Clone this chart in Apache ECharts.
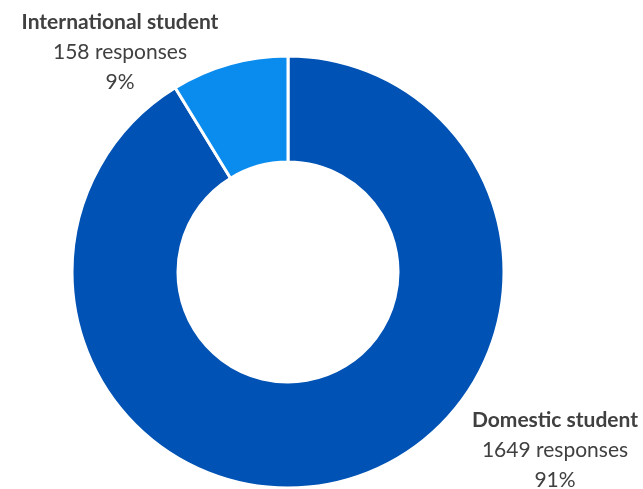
<!DOCTYPE html>
<html><head><meta charset="utf-8">
<script src="https://cdn.jsdelivr.net/npm/echarts@6/dist/echarts.min.js"></script>
<style>html,body{margin:0;padding:0;background:#fff}#c{width:643px;height:489px}</style>
</head><body><div id="c"></div>
<script>
const categories = ['Domestic student', 'International student'];
const responses = [1649, 158];
const percents = ['91%', '9%'];
const colors = ['#0052B4', '#0A8CEE'];

const labelPos = {
  'Domestic student': [555, 450],
  'International student': [120, 52]
};

const chart = echarts.init(document.getElementById('c'));
chart.setOption({
  animation: false,
  series: [{
    type: 'pie',
    center: [288, 272],
    radius: [110, 216],
    startAngle: 90,
    clockwise: true,
    itemStyle: { borderColor: '#fff', borderWidth: 3 },
    label: {
      show: true,
      position: 'outside',
      overflow: 'none',
      color: '#404040',
      fontFamily: 'Lato',
      fontSize: 21,
      lineHeight: 30,
      align: 'center',
      formatter: p => '{b|' + p.name + '}\n' + p.value + ' responses\n' + percents[p.dataIndex],
      rich: { b: { fontWeight: 'bold', fontFamily: 'Lato', fontSize: 21, color: '#404040', lineHeight: 30 } }
    },
    labelLine: { show: false },
    labelLayout: function (params) {
      const name = categories[params.dataIndex];
      const pos = labelPos[name];
      return { x: pos[0], y: pos[1], align: 'center', verticalAlign: 'middle' };
    },
    data: categories.map((c, i) => ({ name: c, value: responses[i], itemStyle: { color: colors[i] } }))
  }]
});
</script></body></html>
